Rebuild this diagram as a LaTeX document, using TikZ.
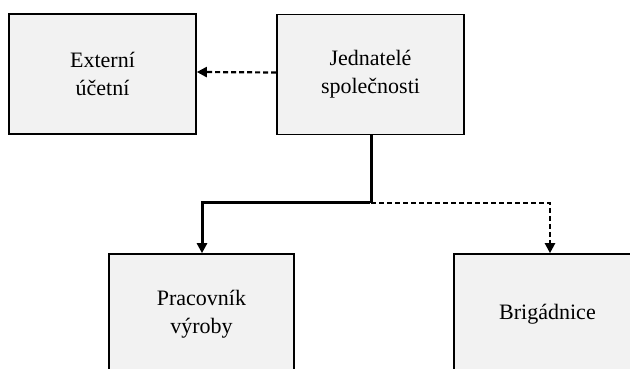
\documentclass[tikz,border=0pt]{standalone}
\usepackage{fontspec}
\setmainfont{Liberation Serif}
\usetikzlibrary{arrows.meta}
\definecolor{boxfill}{HTML}{F2F2F2}
\tikzset{
  orgbox/.style={draw=black, line width=1.6pt, fill=boxfill, minimum height=120pt,
    inner sep=0pt, align=center, font=\fontsize{22pt}{28pt}\selectfont},
  solidcon/.style={line width=3pt, -{Triangle[length=10pt,width=10pt]}},
  dashcon/.style={line width=2.2pt, dash pattern=on 5pt off 3pt, -{Triangle[length=10pt,width=10pt]}},
}
\begin{document}
\begin{tikzpicture}[x=1pt,y=1pt]
\useasboundingbox (0,0) rectangle (630,369);
\clip (0,0) rectangle (630,369);
\node[orgbox, minimum width=187pt] (ext) at (102.5,295) {Externí\\účetní};
\node[orgbox, minimum width=187pt] (jed) at (370.5,294.5) {Jednatelé\\společnosti};
\node[orgbox, minimum width=185pt] (prac) at (201.5,55) {Pracovník\\výroby};
\node[orgbox, minimum width=187pt] (brig) at (547.5,55) {Brigádnice};
\coordinate (junc) at (371,166);
\draw[dashcon] ([yshift=2pt]jed.west) -- ([yshift=2pt]ext.east);
\draw[line width=3pt] ([xshift=0.5pt]jed.south) -- (junc);
\draw[solidcon] ([xshift=-1.5pt]junc) -| ([xshift=0.5pt]prac.north);
\draw[dashcon] (junc) -| ([xshift=2.5pt]brig.north);
\end{tikzpicture}
\end{document}
